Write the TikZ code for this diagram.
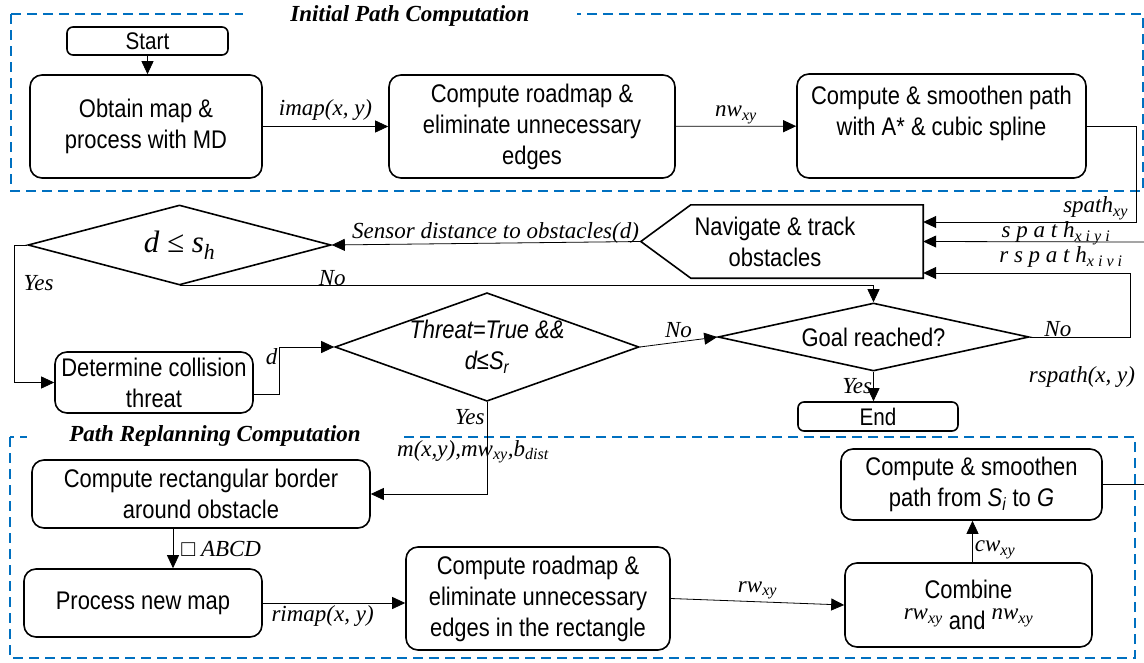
\documentclass[tikz,border=0pt]{standalone}
\usepackage{fontspec}
\setmainfont{Liberation Sans}[FakeStretch=0.86]
\newfontfamily\tnr{Liberation Serif}
\usetikzlibrary{shapes.geometric}
\usetikzlibrary{arrows.meta}
\definecolor{grpblue}{RGB}{0,112,192}
\newcommand\boxfont{\fontsize{25.5}{31}\selectfont}
\newcommand\lblfont{\tnr\itshape\fontsize{23}{26}\selectfont}
\tikzset{
  block/.style={draw, line width=1.6pt, rounded corners=12pt, align=center, inner sep=0pt, font=\boxfont},
  term/.style={block, rounded corners=6pt, font=\fontsize{24}{28}\selectfont},
  decision/.style={diamond, draw, line width=1.6pt, align=center, inner sep=0pt, font=\boxfont},
  lbl/.style={font=\lblfont, inner sep=2pt},
  flow/.style={-{Triangle[length=13pt,width=12pt]}, line width=0.8pt},
  group/.style={draw=grpblue, line width=2pt, dash pattern=on 10pt off 6pt},
  grptitle/.style={fill=white, inner ysep=1pt, font=\tnr\bfseries\itshape\fontsize{23}{26}\selectfont}
}

\begin{document}
\begin{tikzpicture}[x=1pt, y=-1pt]
    \useasboundingbox (0,0) rectangle (1144,662);
    \draw[group] (11,14) rectangle (1143,191);
    \draw[group] (10,437) rectangle (1135,658);
    \node[grptitle, inner xsep=47pt] (ttop) at (410,16) {Initial Path Computation};
    \node[grptitle, inner xsep=42pt] (tbot) at (215,436) {Path Replanning Computation};

    \node[term, minimum width=161pt, minimum height=28pt] (start) at (147.5,41) {Start};
    \node[block, minimum width=232pt, minimum height=103pt] (obtain) at (146,126.5) {Obtain map \&\\process with MD};
    \node[block, minimum width=286pt, minimum height=103pt] (roadmap) at (532,126.5) {Compute roadmap \&\\eliminate unnecessary\\edges};
    \node[block, minimum width=289pt, minimum height=104pt] (smooth) at (941.5,126) {Compute \& smoothen path\\with A* \& cubic spline\\~};

    \node[minimum width=282pt, minimum height=73pt, inner sep=0pt, align=center, font=\boxfont] (nav) at (782,241.5) {\hspace*{-14pt}Navigate \& track\\\hspace*{-14pt}obstacles};
    \draw[line width=1.6pt] (nav.west) -- ([xshift=50pt]nav.north west) -- (nav.north east)
      -- (nav.south east) -- ([xshift=50pt]nav.south west) -- cycle;

    \node[decision, aspect=3.8, minimum width=303pt, minimum height=80pt, font=\tnr\itshape\fontsize{31}{34}\selectfont] (dh) at (179.5,245) {d ≤ s\textsubscript{h}};
    \node[block, minimum width=198pt, minimum height=61pt] (det) at (154,382.5) {Determine collision\\threat};
    \node[decision, aspect=2.8, minimum width=300pt, minimum height=108pt, font=\boxfont\itshape] (threat) at (487,347) {Threat=True \&\&\\d≤S\textsubscript{r}};
    \node[decision, aspect=4.6, minimum width=311pt, minimum height=68pt] (goal) at (873.5,337) {Goal reached?};
    \node[term, minimum width=160pt, minimum height=29pt] (end) at (878,416.5) {End};

    \node[block, minimum width=338pt, minimum height=68pt] (rect) at (201,494) {Compute rectangular border\\around obstacle};
    \node[block, minimum width=238pt, minimum height=68pt] (procmap) at (143,603) {Process new map};
    \node[block, minimum width=264pt, minimum height=103pt] (rroad) at (538,598.5) {Compute roadmap \&\\eliminate unnecessary\\edges in the rectangle};
    \node[block, minimum width=247pt, minimum height=84pt] (comb) at (968.5,605) {Combine\\\raisebox{10pt}{\lblfont rw\textsubscript{xy}} and \raisebox{10pt}{\lblfont nw\textsubscript{xy}}};
    \node[block, minimum width=261pt, minimum height=71pt] (rsmooth) at (971.5,484.5) {Compute \& smoothen\\path from \textit{S}\textsubscript{\textit{i}} to \textit{G}};

    \coordinate (sp) at (1136,222);
    \coordinate (rin) at (1144,242);
    \coordinate (gl) at (1130,273);
    \coordinate (rout) at (1144,484.5);

    \draw[flow] (start.south) -- (start.south |- obtain.north);
    \draw[flow] (obtain) -- (roadmap) node[lbl, midway, above=4pt] {imap(x, y)};
    \draw[flow] (roadmap) -- (smooth) node[lbl, midway, above] {nw\textsubscript{xy}};
    \draw[flow] (smooth.east) -| (sp) -- (sp -| nav.east) node[lbl, pos=0.19, above] {spath\textsubscript{xy}};
    \draw[flow] (rin) -- (nav.east);
    \draw[flow] (goal.east) -- (goal.east -| gl) node[lbl, pos=0.28, above=-2pt] {No} -- (gl) -- (gl -| nav.east);
    \node[lbl, font=\lblfont\addfontfeature{LetterSpace=25}] (sxy) at (1056,233) {spath\textsubscript{xiyi}};
    \node[lbl, font=\lblfont\addfontfeature{LetterSpace=25}] (rsxy) at (1061,257) {rspath\textsubscript{xivi}};
    \node[lbl] (rsp) at (1082,377) {rspath(x, y)};

    \draw[flow] (nav.west) -- (dh.east) node[lbl, pos=0.47, above=-3pt] {Sensor distance to obstacles(d)};
    \draw[flow] (dh.south) -| (goal.north) node[lbl, pos=0.11, above=-2pt] {No};
    \draw[flow] (dh.west) -- ++(-13pt,0) |- (det.west) node[lbl, pos=0.14, anchor=west, xshift=7pt] {Yes};
    \draw[flow] ([yshift=-12pt]det.east) -- ++(26pt,0) |- (threat.west) node[lbl, pos=0.4, left] {d};
    \draw[flow] (threat.east) -- (goal.west) node[lbl, midway, above=2pt] {No};
    \draw[flow] (goal.south) -- (goal.south |- end.north) node[lbl, midway, left=-1pt] {Yes};
    \draw[flow] (threat.south) |- (rect.east) node[lbl, pos=0.08, left] {Yes}
      node[lbl, pos=0.27, xshift=-14pt] {m(x,y),mw\textsubscript{xy},b\textsubscript{dist}};

    \draw[flow] ([xshift=30pt]procmap.north |- rect.south) -- ([xshift=30pt]procmap.north) node[lbl, midway, right=6pt] {□ ABCD};
    \draw[flow] (procmap.east) -- (procmap.east -| rroad.west) node[lbl, pos=0.42, below] {rimap(x, y)};
    \draw[flow] (rroad.east) -- (comb.west) node[lbl, midway, above] {rw\textsubscript{xy}};
    \draw[flow] ([xshift=4pt]comb.north) -- ([xshift=4pt]comb.north |- rsmooth.south) node[lbl, pos=0.3, right] {cw\textsubscript{xy}};
    \draw[line width=0.8pt] (rsmooth.east) -- (rout);
\end{tikzpicture}
\end{document}
